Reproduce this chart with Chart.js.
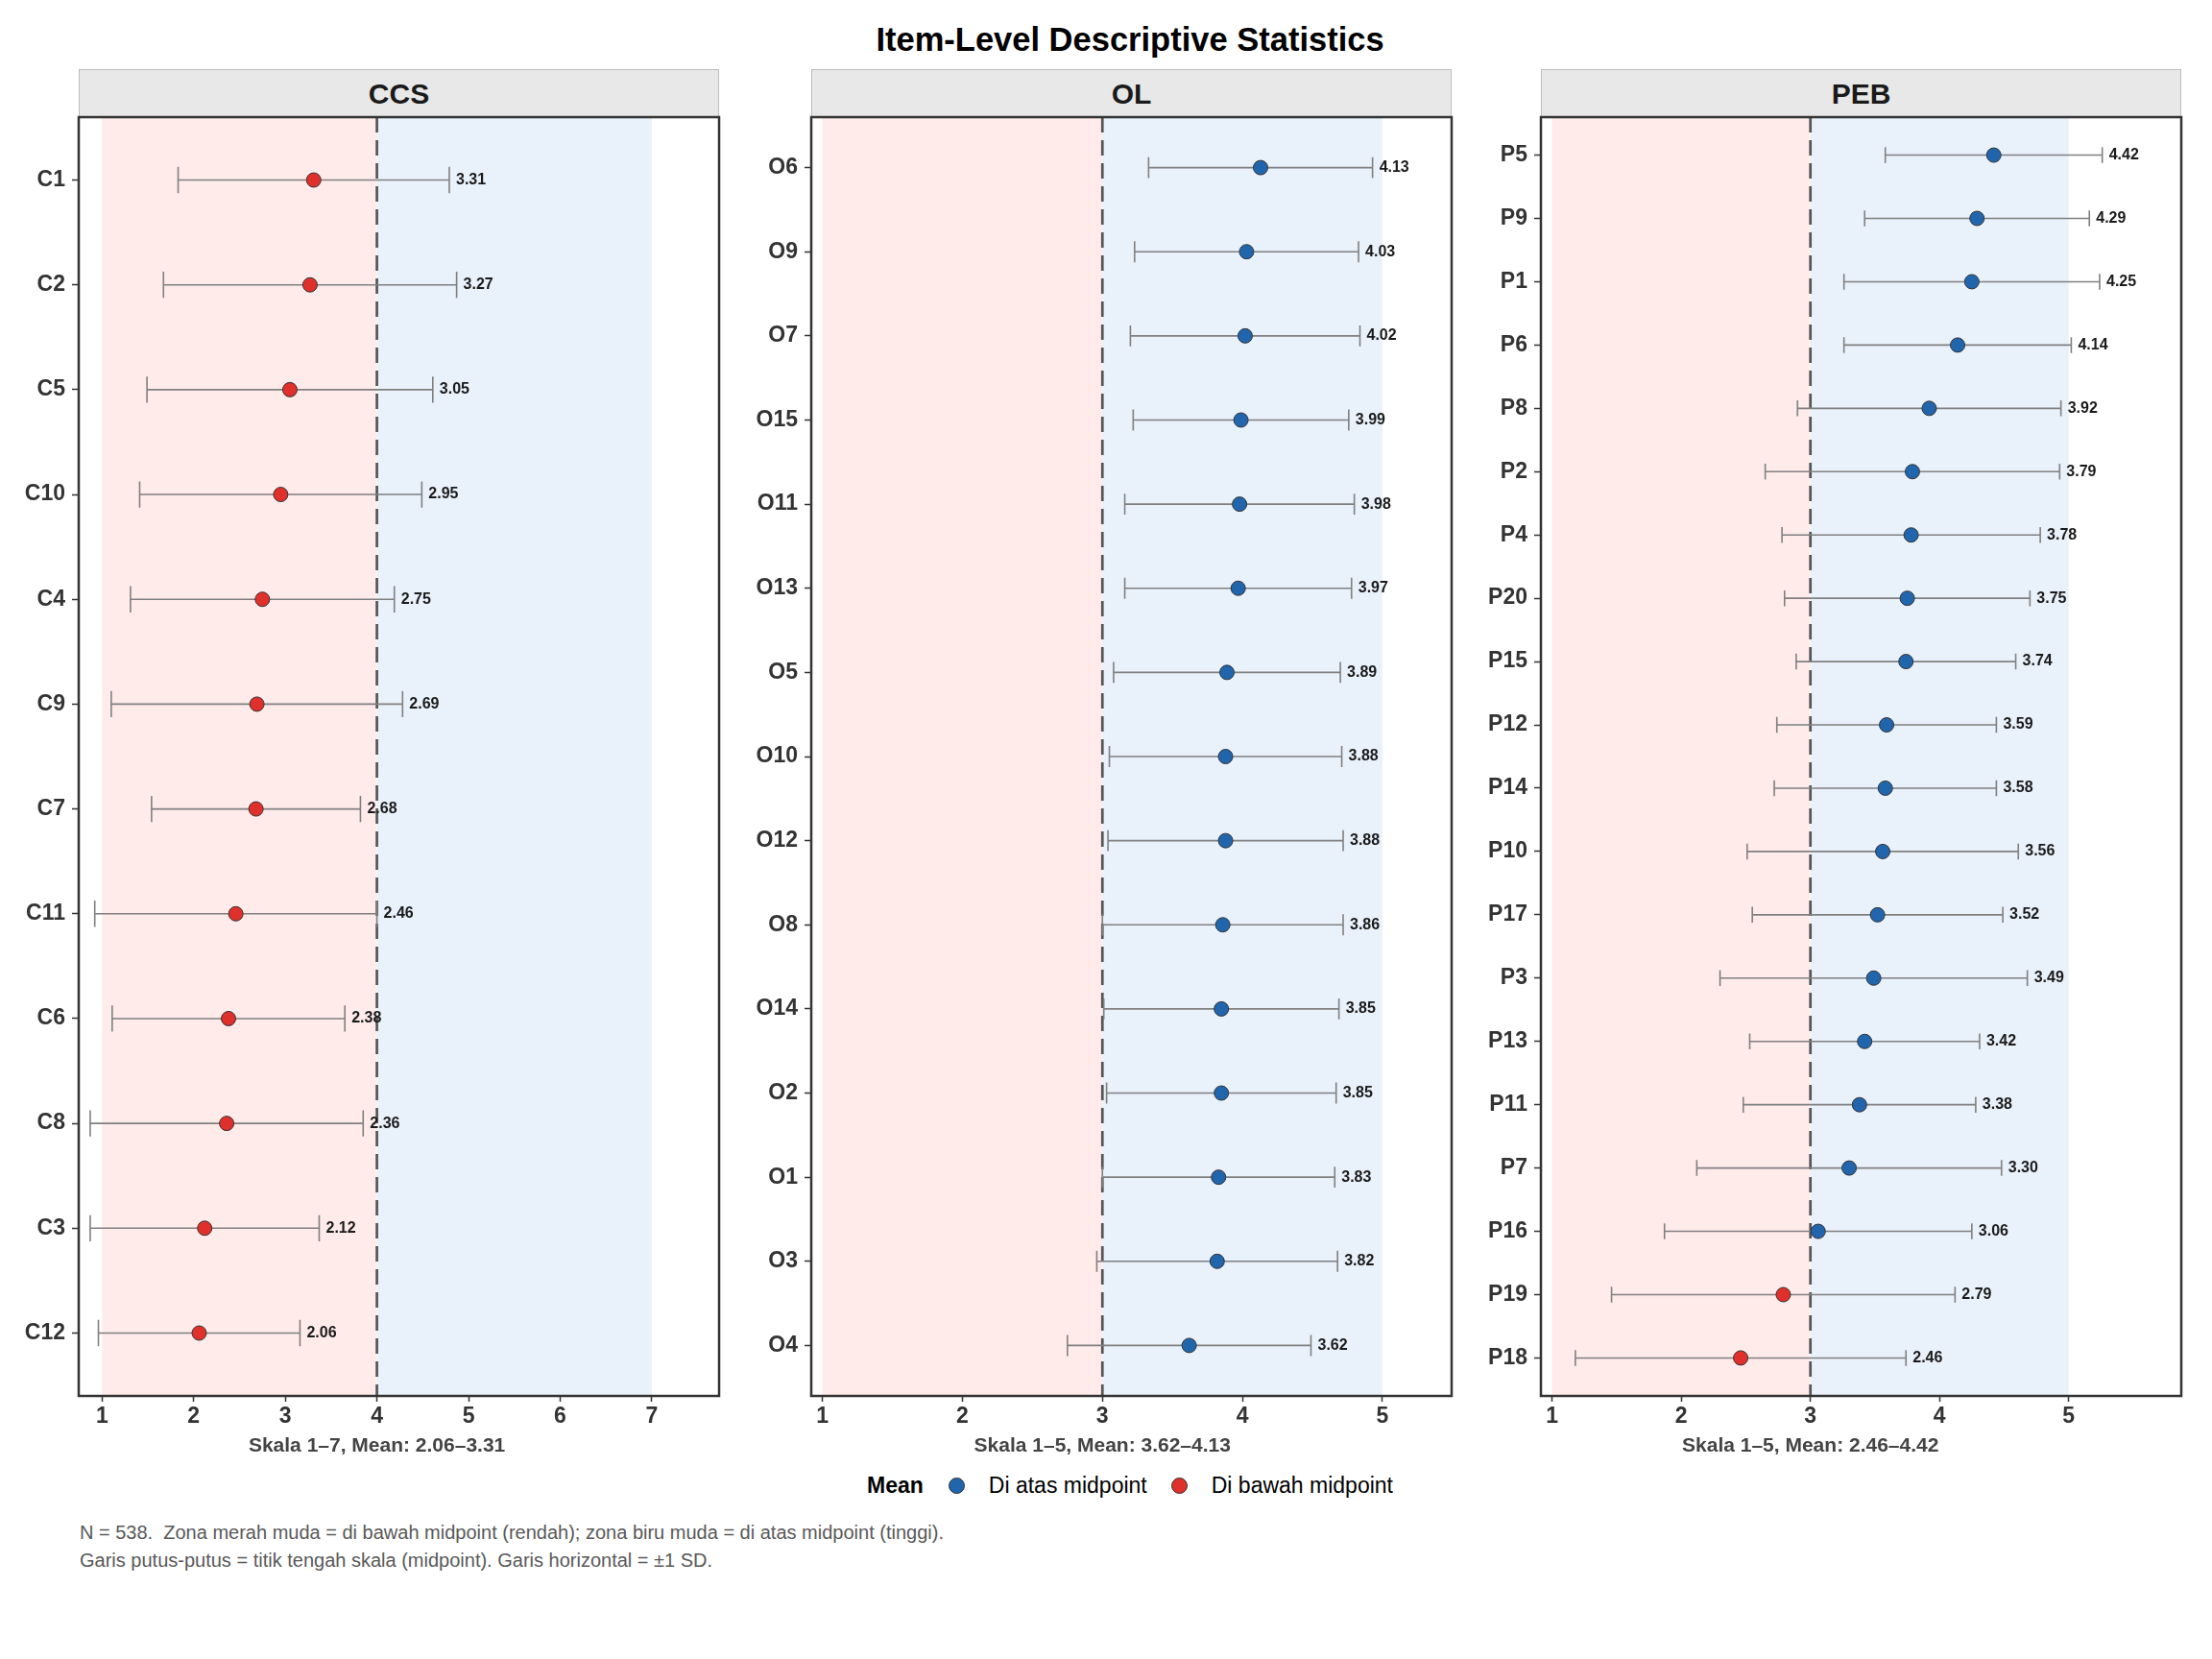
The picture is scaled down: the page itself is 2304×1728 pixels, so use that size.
<!DOCTYPE html>
<html>
<head>
<meta charset="utf-8">
<script src="https://cdn.jsdelivr.net/npm/chart.js@4.4.1/dist/chart.umd.min.js"></script>
<style>
html,body{margin:0;padding:0;background:#fff;}
#page{position:relative;width:2304px;height:1728px;overflow:hidden;font-family:"Liberation Sans",Arial,Helvetica,sans-serif;background:#fff;}
#title{position:absolute;left:577px;width:1200px;top:21px;line-height:40px;text-align:center;font-weight:bold;font-size:34.5px;color:#000;}
.strip{position:absolute;box-sizing:border-box;top:72px;height:50px;background:#E8E8E8;border:1.5px solid #BDBDBD;border-bottom:none;display:flex;align-items:center;justify-content:center;font-weight:bold;font-size:30px;color:#1a1a1a;}
canvas{position:absolute;}
#legend{position:absolute;left:577px;width:1200px;top:1532px;height:30px;display:flex;align-items:center;justify-content:center;font-size:23px;color:#000;}
#legend .ttl{font-weight:bold;margin-right:26px;}
#legend .dot{width:15px;height:15px;border-radius:50%;border:1px solid #333;margin-right:25px;}
#legend .txt{margin-right:25px;}
#footer{position:absolute;left:83px;top:1582px;font-size:20px;line-height:29px;color:#595959;white-space:pre;}
</style>
</head>
<body>
<div id="page">
  <div id="title">Item-Level Descriptive Statistics</div>
  <div class="strip" id="strip0"></div>
  <div class="strip" id="strip1"></div>
  <div class="strip" id="strip2"></div>
  <canvas id="c0"></canvas>
  <canvas id="c1"></canvas>
  <canvas id="c2"></canvas>
  <div id="legend"></div>
  <div id="footer"></div>
</div>
<script>
// ---------------- DATA ----------------
const panelNames = ['CCS', 'OL', 'PEB'];

const ccsItems = ['C1','C2','C5','C10','C4','C9','C7','C11','C6','C8','C3','C12'];
const ccsMeans = [3.31,3.27,3.05,2.95,2.75,2.69,2.68,2.46,2.38,2.36,2.12,2.06];
const ccsSDs   = [1.48,1.60,1.56,1.54,1.44,1.59,1.14,1.54,1.27,1.49,1.25,1.10];
const ccsScale = [1, 7];
const ccsTicks = [1,2,3,4,5,6,7];

const olItems = ['O6','O9','O7','O15','O11','O13','O5','O10','O12','O8','O14','O2','O1','O3','O4'];
const olMeans = [4.13,4.03,4.02,3.99,3.98,3.97,3.89,3.88,3.88,3.86,3.85,3.85,3.83,3.82,3.62];
const olSDs   = [0.80,0.80,0.82,0.77,0.82,0.81,0.81,0.83,0.84,0.86,0.84,0.82,0.83,0.86,0.87];
const olScale = [1, 5];
const olTicks = [1,2,3,4,5];

const pebItems = ['P5','P9','P1','P6','P8','P2','P4','P20','P15','P12','P14','P10','P17','P3','P13','P11','P7','P16','P19','P18'];
const pebMeans = [4.42,4.29,4.25,4.14,3.92,3.79,3.78,3.75,3.74,3.59,3.58,3.56,3.52,3.49,3.42,3.38,3.30,3.06,2.79,2.46];
const pebSDs   = [0.84,0.87,0.99,0.88,1.02,1.14,1.00,0.95,0.85,0.85,0.86,1.05,0.97,1.19,0.89,0.90,1.18,1.19,1.33,1.28];
const pebScale = [1, 5];
const pebTicks = [1,2,3,4,5];

const legendTitle = 'Mean';
const legendLabels = ['Di atas midpoint', 'Di bawah midpoint'];
const footerLines = [
  'N = 538.  Zona merah muda = di bawah midpoint (rendah); zona biru muda = di atas midpoint (tinggi).',
  'Garis putus-putus = titik tengah skala (midpoint). Garis horizontal = \u00B11 SD.'
];

// ---------------- STYLE / LAYOUT ----------------
const BLUE = '#2166AC', RED = '#E0302B';
const ZONE_LOW = '#FFEBEA', ZONE_HIGH = '#E9F1FB';
const FONT = '"Liberation Sans", Arial, Helvetica, sans-serif';
const PLOT_TOP = 122, PLOT_BOTTOM = 1454;
const YAXIS_W = 80, XAXIS_H = 70, PAD_T = 20, PAD_R = 10;
const CAP = 0.125;
const GAP = {x: NaN, y: NaN};
const boxes = [{left:82, right:749}, {left:845, right:1512}, {left:1605, right:2272}];
const xRanges = [[0.745, 7.735], [0.92, 5.495], [0.913, 5.872]];

Chart.defaults.font.family = FONT;

function makePanel(idx, items, means, sds, scaleRange, ticks) {
  const box = boxes[idx];
  const mid = (scaleRange[0] + scaleRange[1]) / 2;
  const n = items.length;
  const whisker = [];
  means.forEach((m, i) => {
    const lo = m - sds[i], hi = m + sds[i];
    whisker.push({x: lo, y: i}, {x: hi, y: i}, {...GAP},
                 {x: lo, y: i - CAP}, {x: lo, y: i + CAP}, {...GAP},
                 {x: hi, y: i - CAP}, {x: hi, y: i + CAP}, {...GAP});
  });
  const pts = means.map((m, i) => ({x: m, y: i}));
  const colors = means.map(m => m > mid ? BLUE : RED);
  const xTitle = 'Skala ' + scaleRange[0] + '\u2013' + scaleRange[1] + ', Mean: ' +
    Math.min(...means).toFixed(2) + '\u2013' + Math.max(...means).toFixed(2);

  const strip = document.getElementById('strip' + idx);
  strip.textContent = panelNames[idx];
  strip.style.left = box.left + 'px';
  strip.style.width = (box.right - box.left) + 'px';

  const canvas = document.getElementById('c' + idx);
  const W = YAXIS_W + (box.right - box.left) + PAD_R;
  const H = PAD_T + (PLOT_BOTTOM - PLOT_TOP) + XAXIS_H;
  canvas.width = W; canvas.height = H;
  canvas.style.width = W + 'px'; canvas.style.height = H + 'px';
  canvas.style.left = (box.left - YAXIS_W) + 'px';
  canvas.style.top = (PLOT_TOP - PAD_T) + 'px';

  const plugin = {
    id: 'panelDecor' + idx,
    beforeDatasetsDraw(chart) {
      const {ctx, chartArea: a, scales: {x}} = chart;
      ctx.save();
      const p1 = x.getPixelForValue(scaleRange[0]);
      const pm = x.getPixelForValue(mid);
      const p2 = x.getPixelForValue(scaleRange[1]);
      ctx.fillStyle = ZONE_LOW;
      ctx.fillRect(p1, a.top, pm - p1, a.bottom - a.top);
      ctx.fillStyle = ZONE_HIGH;
      ctx.fillRect(pm, a.top, p2 - pm, a.bottom - a.top);
      ctx.strokeStyle = '#555555';
      ctx.lineWidth = 2.7;
      ctx.setLineDash([16, 8]);
      ctx.beginPath();
      ctx.moveTo(pm, a.top);
      ctx.lineTo(pm, a.bottom);
      ctx.stroke();
      ctx.restore();
    },
    afterDatasetsDraw(chart) {
      const {ctx, scales: {x, y}} = chart;
      ctx.save();
      ctx.font = 'bold 16px ' + FONT;
      ctx.fillStyle = '#1a1a1a';
      ctx.textAlign = 'left';
      ctx.textBaseline = 'middle';
      means.forEach((m, i) => {
        ctx.fillText(m.toFixed(2), x.getPixelForValue(m + sds[i]) + 7, y.getPixelForValue(i));
      });
      ctx.restore();
    },
    afterDraw(chart) {
      const {ctx, chartArea: a, scales: {x}} = chart;
      ctx.save();
      ctx.strokeStyle = '#333333';
      ctx.lineWidth = 2.5;
      ctx.strokeRect(a.left, a.top, a.right - a.left, a.bottom - a.top);
      ctx.font = 'bold 21px ' + FONT;
      ctx.fillStyle = '#444444';
      ctx.textAlign = 'center';
      ctx.textBaseline = 'middle';
      ctx.fillText(xTitle, x.getPixelForValue(mid), a.bottom + 52);
      ctx.restore();
    }
  };

  new Chart(canvas, {
    type: 'scatter',
    data: {
      datasets: [
        {data: whisker, showLine: true, borderColor: '#808080', borderWidth: 1.6,
         pointRadius: 0, pointHoverRadius: 0, spanGaps: false, order: 2},
        {data: pts, pointRadius: 7.5, pointHoverRadius: 7.5, pointBackgroundColor: colors,
         pointBorderColor: '#333333', pointBorderWidth: 1, order: 1}
      ]
    },
    options: {
      responsive: false,
      maintainAspectRatio: false,
      animation: false,
      events: [],
      layout: {padding: {top: PAD_T, right: PAD_R, left: 0, bottom: 0}},
      plugins: {legend: {display: false}, tooltip: {enabled: false}, title: {display: false}},
      scales: {
        x: {
          type: 'linear', position: 'bottom',
          min: xRanges[idx][0], max: xRanges[idx][1],
          afterBuildTicks: s => { s.ticks = ticks.map(v => ({value: v})); },
          afterFit: s => { s.height = XAXIS_H; },
          ticks: {color: '#333333', font: {size: 23, weight: 'bold', lineHeight: 1}, padding: 4.5,
                  maxRotation: 0, autoSkip: false, callback: v => String(v)},
          grid: {display: true, drawOnChartArea: false, drawTicks: true, tickLength: 6,
                 tickColor: '#333333', tickWidth: 1.5},
          border: {display: false}
        },
        y: {
          type: 'linear', position: 'left', reverse: true,
          min: -0.6, max: n - 0.4,
          afterBuildTicks: s => { s.ticks = items.map((_, i) => ({value: i})); },
          afterFit: s => { s.width = YAXIS_W; },
          ticks: {color: '#333333', font: {size: 23, weight: 'bold', lineHeight: 1}, padding: 7,
                  autoSkip: false, callback: v => items[v]},
          grid: {display: true, drawOnChartArea: false, drawTicks: true, tickLength: 7,
                 tickColor: '#333333', tickWidth: 1.5},
          border: {display: false}
        }
      }
    },
    plugins: [plugin]
  });
}

makePanel(0, ccsItems, ccsMeans, ccsSDs, ccsScale, ccsTicks);
makePanel(1, olItems, olMeans, olSDs, olScale, olTicks);
makePanel(2, pebItems, pebMeans, pebSDs, pebScale, pebTicks);

// Legend
const lg = document.getElementById('legend');
const t = document.createElement('span'); t.className = 'ttl'; t.textContent = legendTitle; lg.appendChild(t);
[BLUE, RED].forEach((c, i) => {
  const d = document.createElement('span'); d.className = 'dot'; d.style.background = c; lg.appendChild(d);
  const s = document.createElement('span'); s.className = 'txt'; s.textContent = legendLabels[i];
  if (i === legendLabels.length - 1) s.style.marginRight = '0px';
  lg.appendChild(s);
});
document.getElementById('footer').textContent = footerLines.join('\n');
</script>
</body>
</html>
